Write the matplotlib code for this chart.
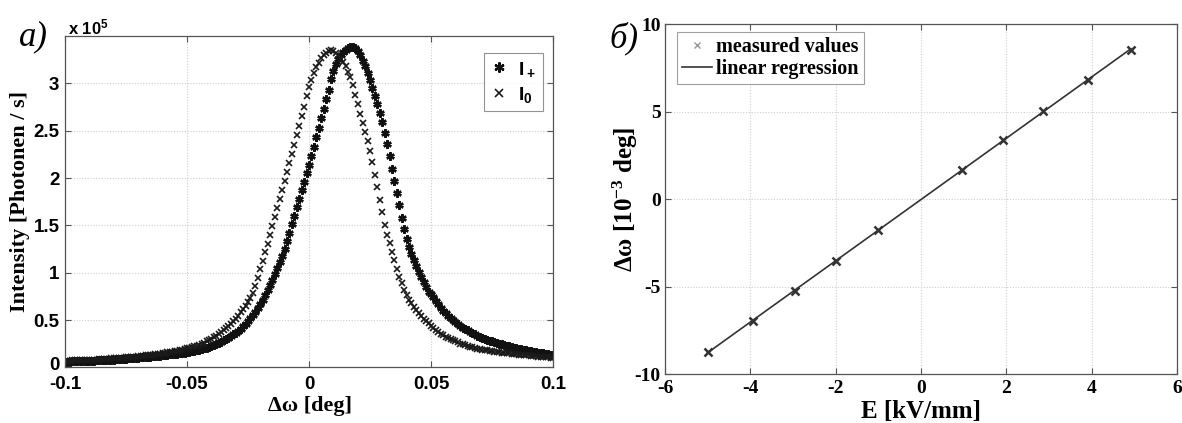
import numpy as np
import matplotlib
matplotlib.use("Agg")
import matplotlib.pyplot as plt
from matplotlib.ticker import FormatStrFormatter
from matplotlib.transforms import ScaledTranslation

plt.rcParams['axes.unicode_minus'] = False
plt.rcParams['mathtext.default'] = 'regular'

SERIF = 'Liberation Serif'
SANS = 'Liberation Sans'

# ---------------- panel a) data (intensity in units of 1e5 photons/s) -------------
omega = np.linspace(-0.1, 0.1, 201)  # sampling grid of the scan [deg]

I0 = [
    0.070, 0.071, 0.072, 0.073, 0.074, 0.075, 0.076, 0.077, 0.078, 0.079,
    0.080, 0.081, 0.082, 0.083, 0.084, 0.086, 0.088, 0.090, 0.092, 0.094,
    0.096, 0.098, 0.100, 0.102, 0.104, 0.106, 0.108, 0.110, 0.112, 0.115,
    0.118, 0.121, 0.124, 0.127, 0.130, 0.133, 0.136, 0.139, 0.142, 0.146,
    0.150, 0.154, 0.158, 0.162, 0.167, 0.172, 0.177, 0.182, 0.188, 0.194,
    0.200, 0.207, 0.214, 0.222, 0.231, 0.240, 0.251, 0.262, 0.274, 0.287,
    0.300, 0.316, 0.333, 0.351, 0.370, 0.390, 0.411, 0.433, 0.460, 0.487,
    0.515, 0.547, 0.580, 0.615, 0.652, 0.692, 0.735, 0.790, 0.855, 0.940,
    1.035, 1.125, 1.215, 1.305, 1.400, 1.495, 1.590, 1.685, 1.780, 1.875,
    1.970, 2.065, 2.160, 2.255, 2.350, 2.450, 2.550, 2.650, 2.750, 2.870,
    2.960, 3.040, 3.110, 3.170, 3.220, 3.265, 3.300, 3.325, 3.345, 3.350,
    3.340, 3.320, 3.295, 3.262, 3.225, 3.180, 3.125, 3.065, 2.980, 2.880,
    2.780, 2.680, 2.585, 2.490, 2.390, 2.290, 2.170, 2.030, 1.900, 1.770,
    1.640, 1.500, 1.400, 1.310, 1.220, 1.130, 1.040, 0.960, 0.890, 0.820,
    0.760, 0.715, 0.675, 0.640, 0.605, 0.575, 0.545, 0.515, 0.490, 0.465,
    0.440, 0.418, 0.397, 0.377, 0.358, 0.340, 0.326, 0.312, 0.299, 0.286,
    0.274, 0.263, 0.252, 0.242, 0.233, 0.225, 0.218, 0.211, 0.205, 0.199,
    0.194, 0.189, 0.184, 0.179, 0.175, 0.171, 0.167, 0.163, 0.160, 0.157,
    0.154, 0.151, 0.148, 0.145, 0.142, 0.139, 0.136, 0.133, 0.130, 0.128,
    0.126, 0.123, 0.120, 0.118, 0.115, 0.113, 0.111, 0.109, 0.106, 0.103,
    0.100,
]

I_plus = [
    0.060, 0.061, 0.062, 0.063, 0.064, 0.065, 0.066, 0.067, 0.068, 0.069,
    0.070, 0.071, 0.072, 0.073, 0.074, 0.075, 0.076, 0.077, 0.079, 0.081,
    0.083, 0.085, 0.087, 0.089, 0.091, 0.093, 0.095, 0.097, 0.099, 0.101,
    0.103, 0.105, 0.107, 0.109, 0.111, 0.113, 0.116, 0.119, 0.122, 0.125,
    0.128, 0.131, 0.134, 0.137, 0.140, 0.143, 0.146, 0.149, 0.152, 0.156,
    0.160, 0.165, 0.170, 0.176, 0.182, 0.188, 0.195, 0.202, 0.210, 0.219,
    0.228, 0.238, 0.249, 0.260, 0.272, 0.285, 0.299, 0.314, 0.330, 0.348,
    0.367, 0.388, 0.410, 0.434, 0.460, 0.488, 0.518, 0.550, 0.585, 0.623,
    0.665, 0.712, 0.762, 0.815, 0.870, 0.928, 0.988, 1.045, 1.110, 1.180,
    1.255, 1.335, 1.420, 1.510, 1.600, 1.690, 1.780, 1.870, 1.960, 2.050,
    2.140, 2.230, 2.330, 2.430, 2.530, 2.630, 2.730, 2.830, 2.930, 3.050,
    3.130, 3.200, 3.255, 3.295, 3.330, 3.355, 3.375, 3.385, 3.385, 3.370,
    3.340, 3.295, 3.240, 3.180, 3.110, 3.035, 2.955, 2.870, 2.780, 2.690,
    2.590, 2.480, 2.360, 2.230, 2.100, 1.970, 1.840, 1.710, 1.580, 1.460,
    1.360, 1.270, 1.200, 1.130, 1.070, 1.010, 0.950, 0.900, 0.850, 0.800,
    0.770, 0.740, 0.700, 0.665, 0.630, 0.600, 0.570, 0.545, 0.520, 0.497,
    0.476, 0.456, 0.438, 0.421, 0.405, 0.390, 0.376, 0.362, 0.349, 0.336,
    0.324, 0.313, 0.302, 0.292, 0.283, 0.274, 0.266, 0.258, 0.250, 0.243,
    0.236, 0.229, 0.222, 0.216, 0.210, 0.204, 0.198, 0.192, 0.187, 0.182,
    0.177, 0.172, 0.167, 0.162, 0.157, 0.152, 0.147, 0.142, 0.137, 0.133,
    0.129,
]

a_xticks = [-0.1, -0.05, 0, 0.05, 0.1]
a_yticks = [0, 0.5, 1, 1.5, 2, 2.5, 3]

# ---------------- panel b) data -------------
E_field = np.array([-5.0, -3.93, -2.96, -1.99, -1.0, 0.97, 1.92, 2.85, 3.91, 4.92])
d_omega = np.array([-8.73, -6.95, -5.25, -3.51, -1.76, 1.68, 3.38, 5.06, 6.82, 8.56])
b_xticks = [-6, -4, -2, 0, 2, 4, 6]
b_yticks = [-10, -5, 0, 5, 10]

# ---------------- figure -------------
W, H = 1182, 423
fig = plt.figure(figsize=(W / 100, H / 100), dpi=100)

def box(l, t, r, b):
    return [l / W, 1 - b / H, (r - l) / W, (b - t) / H]

ax1 = fig.add_axes(box(65, 36, 553, 367.4))
ax2 = fig.add_axes(box(665, 24.5, 1177, 374))

for ax in (ax1, ax2):
    ax.grid(True, color='#cfcfcf', lw=0.8, ls=(0, (1, 1.5)))
    ax.set_axisbelow(True)
    for s in ax.spines.values():
        s.set_color('#555555')
        s.set_linewidth(0.9)
    ax.tick_params(direction='in', top=True, right=True, length=4,
                   color='#555555', width=0.8)

# panel a
ASTERISK = (6, 2, 0)
ax1.plot(omega, I_plus, ls='none', marker=ASTERISK, ms=6, mew=1.7,
         color='#111111', label='I$_+$')
ax1.plot(omega, I0, ls='none', marker='x', ms=4.5, mew=1.2,
         color='#1a1a1a', label='I$_0$')
ax1.set_xlim(-0.1, 0.1)
ax1.set_ylim(0, 3.5)
ax1.set_xticks(a_xticks)
ax1.set_yticks(a_yticks)
ax1.xaxis.set_major_formatter(FormatStrFormatter('%g'))
ax1.yaxis.set_major_formatter(FormatStrFormatter('%g'))
ax1.tick_params(axis='x', pad=6)
ax1.tick_params(axis='y', pad=4)
for lab in ax1.get_xticklabels() + ax1.get_yticklabels():
    lab.set_fontfamily(SANS)
    lab.set_fontweight('bold')
    lab.set_fontsize(13.5)
# nudge the "0" label up a little so it clears "-0.1"
zero_lab = ax1.yaxis.get_major_ticks()[0].label1
zero_lab.set_transform(zero_lab.get_transform()
                       + ScaledTranslation(0, 3 / 72, fig.dpi_scale_trans))

leg1 = ax1.legend(loc='upper right', bbox_to_anchor=(0.9795, 0.949),
                  borderaxespad=0, frameon=True, fancybox=False,
                  prop={'family': SANS, 'weight': 'bold', 'size': 14},
                  handlelength=0.8, handletextpad=0.6, labelspacing=0.35,
                  borderpad=0.35, markerscale=1.2)
leg1.get_frame().set_edgecolor('#777777')
leg1.get_frame().set_linewidth(0.8)

fig.text(68 / W, 1 - 27 / H, 'x 10$^5$', family=SANS, weight='bold',
         fontsize=12, ha='left', va='center')
fig.text(20 / W, 1 - 201 / H, 'Intensity [Photonen / s]', family=SERIF,
         weight='bold', fontsize=16, rotation=90, ha='center', va='center')
fig.text(310 / W, 1 - 406 / H, 'Δω [deg]', family=SERIF, weight='bold',
         fontsize=16, ha='center', va='center')
fig.text(19 / W, 1 - 37 / H, 'а)', family=SERIF, style='italic',
         fontsize=25, ha='left', va='center')

# panel b
coef = np.polyfit(E_field, d_omega, 1)
E_line = np.array([E_field.min(), E_field.max()])
ax2.plot(E_field, d_omega, ls='none', marker='x', ms=6, mew=1.8,
         color='#333333', label='measured values')
ax2.plot(E_line, np.polyval(coef, E_line), color='#333333', lw=1.2,
         label='linear regression')
ax2.set_xlim(-6, 6)
ax2.set_ylim(-10, 10)
ax2.set_xticks(b_xticks)
ax2.set_yticks(b_yticks)
for lab in ax2.get_xticklabels() + ax2.get_yticklabels():
    lab.set_fontfamily(SERIF)
    lab.set_fontweight('bold')
    lab.set_fontsize(14)
ax2.tick_params(axis='x', pad=4)
ax2.tick_params(axis='y', pad=3)

handles, labels = ax2.get_legend_handles_labels()
h_mark = plt.Line2D([], [], ls='none', marker='x', ms=5, mew=1.0, color='#999999')
leg2 = ax2.legend([h_mark, handles[1]], labels, loc='upper left',
                  bbox_to_anchor=(0.0234, 0.9785), borderaxespad=0,
                  frameon=True, fancybox=False,
                  prop={'family': SERIF, 'weight': 'bold', 'size': 14.5},
                  handlelength=1.5, handletextpad=0.2, labelspacing=0.1,
                  borderpad=0.25)
leg2.get_frame().set_edgecolor('#888888')
leg2.get_frame().set_linewidth(0.8)

fig.text(625 / W, 1 - 199 / H, 'Δω [10$^{-3}$ deg]', family=SERIF,
         weight='bold', fontsize=18, rotation=90, ha='center', va='center')
fig.text(921 / W, 1 - 411 / H, 'E [kV/mm]', family=SERIF, weight='bold',
         fontsize=18, ha='center', va='center')
fig.text(609 / W, 1 - 38 / H, 'б)', family=SERIF, style='italic',
         fontsize=25, ha='left', va='center')

fig.savefig('out.png', dpi=100)
